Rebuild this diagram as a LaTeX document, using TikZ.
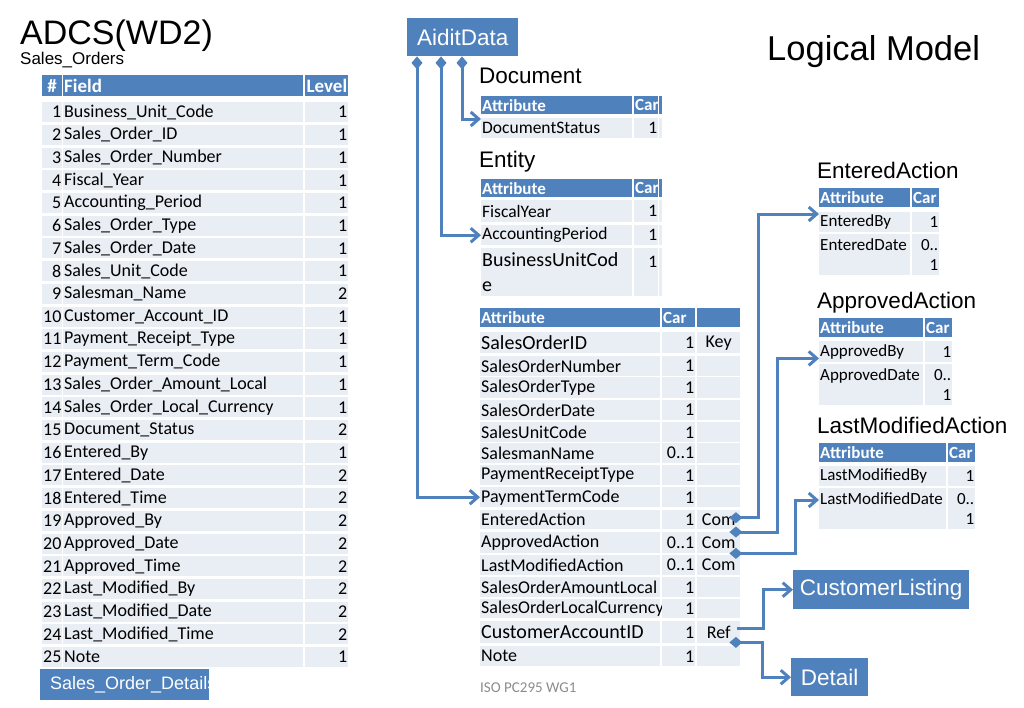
\documentclass[tikz,border=0pt]{standalone}
\usepackage{fontspec}
\setmainfont{Liberation Sans}
\newfontfamily\tabfont{Carlito}
\usetikzlibrary{arrows.meta}
\definecolor{hdrblue}{HTML}{4F81BD}
\definecolor{rowfill}{HTML}{E9EDF4}
\definecolor{isogray}{HTML}{8C8C8C}
\def\tabcell[#1](#2)(#3,#4)(#5,#6)#7{\pgfmathsetmacro\cw{#5-#3-2}\pgfmathsetmacro\ch{#6-#4}\node[cell,#1,minimum height=\ch pt,text width=\cw pt] (#2) at (#3,#4) {#7};}
\tikzset{
  cell/.style={fill=rowfill, inner xsep=1pt, inner ysep=0pt, anchor=north west, align=left, font=\tabfont\fontsize{17}{20}\selectfont},
  carcell/.style={cell, align=right},
  hcell/.style={cell, fill=hdrblue, text=white, font=\tabfont\bfseries\fontsize{17}{20}\selectfont},
  lhcell/.style={hcell, font=\tabfont\bfseries\fontsize{19}{22}\selectfont},
  mid/.style={font=\tabfont\fontsize{17.5}{20}\selectfont},
  big/.style={font=\tabfont\fontsize{20}{25}\selectfont},
  title/.style={anchor=base west, inner sep=0pt},
  label/.style={title, font=\fontsize{22.5}{27}\selectfont},
  bluebox/.style={fill=hdrblue, text=white, inner sep=0pt, anchor=north west, font=\fontsize{22.5}{27}\selectfont},
  link/.style={draw=hdrblue, line width=3pt, -{Straight Barb[length=8pt,width=14pt]}},
  comp/.style={link, {Diamond[length=13pt,width=11pt]}-{Straight Barb[length=8pt,width=14pt]}}
}
\begin{document}
\begin{tikzpicture}[x=1pt,y=-1pt]
  %%%%% START %%%%%
  \useasboundingbox (0,0) rectangle (1024,707);

  \node[title, font=\fontsize{34}{38}\selectfont] (adcs) at (20,44) {ADCS(WD2)};
  \node[title, font=\fontsize{17}{20}\selectfont] (salesorders) at (20,64) {Sales\_Orders};
  \node[title, font=\fontsize{34.5}{40}\selectfont] (logical) at (767,60) {Logical Model};

  % Sales_Orders table
  \tabcell[lhcell, align=center](hnum)(42,75)(62,96){\#}
  \tabcell[lhcell](hfld)(63,75)(303,96){Field}
  \tabcell[lhcell, align=right](hlvl)(305,75)(348,96){Level}
  \foreach \n/\f/\l in {1/Business\_Unit\_Code/1, 2/Sales\_Order\_ID/1, 3/Sales\_Order\_Number/1,
      4/Fiscal\_Year/1, 5/Accounting\_Period/1, 6/Sales\_Order\_Type/1, 7/Sales\_Order\_Date/1,
      8/Sales\_Unit\_Code/1, 9/Salesman\_Name/2, 10/Customer\_Account\_ID/1, 11/Payment\_Receipt\_Type/1,
      12/Payment\_Term\_Code/1, 13/Sales\_Order\_Amount\_Local/1, 14/Sales\_Order\_Local\_Currency/1,
      15/Document\_Status/2, 16/Entered\_By/1, 17/Entered\_Date/2, 18/Entered\_Time/2,
      19/Approved\_By/2, 20/Approved\_Date/2, 21/Approved\_Time/2, 22/Last\_Modified\_By/2,
      23/Last\_Modified\_Date/2, 24/Last\_Modified\_Time/2, 25/Note/1}{
    \pgfmathsetmacro\ty{102+(\n-1)*22.7}
    \pgfmathsetmacro\tb{\ty+20}
    \tabcell[carcell, font=\tabfont\fontsize{18}{20}\selectfont](num\n)(42,\ty)(62,\tb){\n}
    \tabcell[cell, font=\tabfont\fontsize{18}{20}\selectfont](fld\n)(63,\ty)(303,\tb){\f}
    \tabcell[carcell, font=\tabfont\fontsize{18}{20}\selectfont](lvl\n)(305,\ty)(348,\tb){\l}
  }
  \node[bluebox, minimum width=169pt, minimum height=31pt] (details) at (40,669) {};
  \begin{scope}
    \clip (40,669) rectangle (209,700);
    \node[anchor=west, inner sep=0pt, text=white, font=\fontsize{18}{22}\selectfont] (detailstext) at (50,685) {Sales\_Order\_Details};
  \end{scope}

  \node[bluebox, minimum width=111pt, minimum height=38pt] (aidit) at (407,18) {AiditData};

  % Document
  \node[label] (doclbl) at (479,83) {Document};
  \tabcell[hcell](doch)(481,96)(632,114){Attribute}
  \tabcell[hcell](doch-c)(634,96)(658,114){Car}
  \tabcell[hcell](doch-x)(659,96)(662,114){}
  \tabcell[cell, mid](ds)(481,118)(632,138){DocumentStatus}
  \tabcell[carcell, mid](ds-c)(634,118)(658,138){1}
  \tabcell[cell](ds-x)(659,118)(662,138){}

  % Entity
  \node[label] (entlbl) at (479,167) {Entity};
  \tabcell[hcell](enth)(481,179)(632,197){Attribute}
  \tabcell[hcell](enth-c)(634,179)(658,197){Car}
  \tabcell[hcell](enth-x)(659,179)(662,197){}
  \tabcell[cell, mid](fy)(481,200)(632,222){FiscalYear}
  \tabcell[carcell, mid](fy-c)(634,200)(658,222){1}
  \tabcell[cell](fy-x)(659,200)(662,222){}
  \tabcell[cell, mid](ap)(481,225)(632,245){AccountingPeriod}
  \tabcell[carcell, mid](ap-c)(634,225)(658,245){1}
  \tabcell[cell](ap-x)(659,225)(662,245){}
  \tabcell[cell, big](buc)(481,248)(632,296){BusinessUnitCod\\e}
  \tabcell[carcell, mid](buc-c)(634,248)(658,296){1\\\mbox{}}
  \tabcell[cell](buc-x)(659,248)(662,296){}

  % Header
  \tabcell[hcell](hdr)(480,308)(660,327){Attribute}
  \tabcell[hcell](hdr-c)(662,308)(695,327){Car}
  \tabcell[hcell](hdr-x)(697,308)(740,327){}
  \foreach \nm/\ya/\yb/\fs/\at/\cr/\ex in {soid/332/353/20/SalesOrderID/1/Key,
      sonum/356/376/18/SalesOrderNumber/1/{}, sotype/377/398/18/SalesOrderType/1/{},
      sodate/400/420/18/SalesOrderDate/1/{}, suc/422/442/18/SalesUnitCode/1/{},
      smn/443/463/18/SalesmanName/{0..1}/{}, prt/465/485/18/PaymentReceiptType/1/{},
      ptc/487/507/18/PaymentTermCode/1/{}, ea/510/529/18/EnteredAction/1/Com,
      aa/532/553/18/ApprovedAction/{0..1}/Com, lma/555/575/18/LastModifiedAction/{0..1}/Com,
      soal/577/597/18/SalesOrderAmountLocal/1/{}, solc/599/618/18/SalesOrderLocalCurrency/1/{},
      ca/621/643/20/CustomerAccountID/1/Ref, note/646/666/18/Note/1/{}}{
    \tabcell[cell, font=\tabfont\fontsize{\fs}{24}\selectfont](\nm)(480,\ya)(660,\yb){\at}
    \tabcell[carcell, font=\tabfont\fontsize{18}{20}\selectfont](\nm-c)(662,\ya)(695,\yb){\cr}
    \tabcell[cell, align=center, font=\tabfont\fontsize{18}{20}\selectfont](\nm-x)(697,\ya)(740,\yb){\ex}
  }
  \node[title, text=isogray, font=\tabfont\fontsize{15}{18}\selectfont] (iso) at (480,692) {ISO PC295 WG1};

  % EnteredAction
  \node[label] (ealbl) at (817,178) {EnteredAction};
  \tabcell[hcell](eah)(819,188)(910,207){Attribute}
  \tabcell[hcell](eah-c)(912,188)(939,207){Car}
  \tabcell[cell](eb)(819,212)(910,232){EnteredBy}
  \tabcell[carcell](eb-c)(912,212)(939,232){1}
  \tabcell[cell](ed)(819,234)(910,275){EnteredDate\\\mbox{}}
  \tabcell[carcell](ed-c)(912,234)(939,275){0..\\1}

  % ApprovedAction
  \node[label] (aalbl) at (817,308) {ApprovedAction};
  \tabcell[hcell](aah)(819,318)(923,337){Attribute}
  \tabcell[hcell](aah-c)(925,318)(952,337){Car}
  \tabcell[cell](ab)(819,341)(923,362){ApprovedBy}
  \tabcell[carcell](ab-c)(925,341)(952,362){1}
  \tabcell[cell](ad)(819,364)(923,405){ApprovedDate\\\mbox{}}
  \tabcell[carcell](ad-c)(925,364)(952,405){0..\\1}

  % LastModifiedAction
  \node[label] (lmlbl) at (817,433) {LastModifiedAction};
  \tabcell[hcell](lmh)(819,443)(946,462){Attribute}
  \tabcell[hcell](lmh-c)(948,443)(975,462){Car}
  \tabcell[cell](lb)(819,466)(946,486){LastModifiedBy}
  \tabcell[carcell](lb-c)(948,466)(975,486){1}
  \tabcell[cell](ld)(819,488)(946,529){LastModifiedDate\\\mbox{}}
  \tabcell[carcell](ld-c)(948,488)(975,529){0..\\1}

  \node[bluebox, minimum width=176pt, minimum height=39pt] (cl) at (793,570) {CustomerListing};
  \node[bluebox, minimum width=77pt, minimum height=38pt] (det) at (791,658) {Detail};

  % connectors
  \draw[comp] ([xshift=10pt]aidit.south west) |- (ptc.west);
  \draw[comp] ([xshift=34pt]aidit.south west) |- (ap.west);
  \draw[comp] ([xshift=55pt]aidit.south west) |- ([yshift=-1pt]ds.north west);
  \draw[comp] ([xshift=-11pt,yshift=2pt]ea-x.east) -- ++(29,0) |- ([yshift=-2pt]eb.north west);
  \draw[comp] ([xshift=-11pt]aa-x.north east) -- ++(48,0) |- ([yshift=4pt]ab.south west);
  \draw[comp] ([xshift=-11pt]aa-x.south east) -- ++(66,0) |- ([yshift=-12pt]ld.north west);
  \draw[link] ([xshift=-3pt,yshift=4pt]ca-x.east) -- ++(26,0) |- (cl.west);
  \draw[comp] ([xshift=-11pt,yshift=1pt]ca-x.south east) -- ++(33,0) |- (det.west);
  %%%%% END %%%%%
\end{tikzpicture}
\end{document}
